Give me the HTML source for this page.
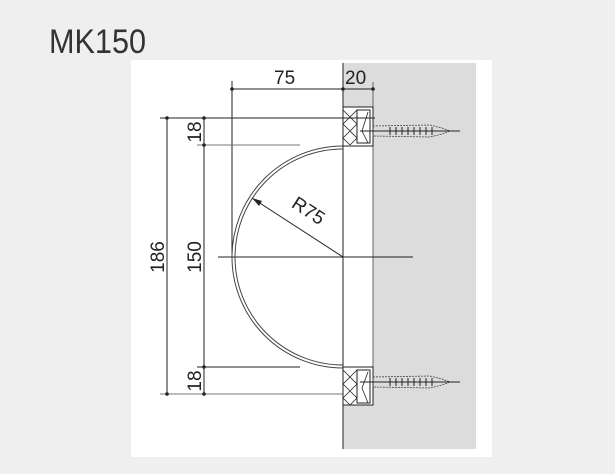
<!DOCTYPE html>
<html><head><style>
html,body{margin:0;padding:0;background:#efefef;}
svg{display:block}
</style></head><body>
<svg width="615" height="474" viewBox="0 0 615 474" xmlns="http://www.w3.org/2000/svg" font-family="Liberation Sans, sans-serif">
<rect x="0" y="0" width="615" height="474" fill="#efefef"/>
<text x="49" y="53" font-size="34" fill="#333" textLength="97" lengthAdjust="spacingAndGlyphs">MK150</text>
<rect x="131" y="60" width="361" height="397" fill="#fff"/>
<rect x="343" y="63" width="133" height="386" fill="#dcdcdc"/>
<rect x="343" y="107" width="30" height="298" fill="#fff"/>
<g stroke="#222" stroke-width="1" fill="none">
<line x1="343" y1="63" x2="343" y2="449"/>
<line x1="373" y1="82" x2="373" y2="405" stroke="#666"/>
<line x1="232" y1="89" x2="373" y2="89"/>
<line x1="232" y1="81" x2="232" y2="257"/>
<line x1="160" y1="118" x2="375" y2="118"/>
<line x1="197" y1="145" x2="300" y2="145" stroke="#777"/>
<line x1="197" y1="367" x2="300" y2="367"/>
<line x1="160" y1="394" x2="343" y2="394" stroke="#777"/>
<line x1="167" y1="118" x2="167" y2="394"/>
<line x1="204" y1="118" x2="204" y2="394"/>
<line x1="218" y1="257" x2="413" y2="257"/>
<path d="M343 146 A111 111 0 0 0 343 368" stroke="#444"/>
<path d="M343 149 A108 108 0 0 0 343 365" stroke="#444"/>
<line x1="343" y1="257" x2="252" y2="198"/>
<rect x="343" y="107" width="30" height="39"/>
<rect x="343" y="367" width="30" height="38"/>
<rect x="357" y="110" width="13" height="33"/>
<rect x="357" y="370" width="13" height="33"/>
<path d="M343 110 L357 124 M357 110 L343 124 M343 124 L357 138 M357 124 L343 138 M343 138 L350 145 M357 138 L350 145" stroke-width="0.8"/>
<path d="M343 370 L357 384 M357 370 L343 384 M343 384 L357 398 M357 384 L343 398 M343 398 L350 405 M357 398 L350 405" stroke-width="0.8"/>
<path d="M368 112 L362 131 L368 143 M368 372 L362 388 L368 403" stroke-width="0.8"/>
<g stroke="#444" stroke-width="0.8" stroke-dasharray="2,1">
<path d="M373 126 L430 125 L442 128 L450 131 L442 134 L430 137 L373 136 Z"/>
<path d="M373 377 L430 376 L442 379 L450 382 L442 385 L430 388 L373 387 Z"/>
</g>
<line x1="360" y1="131" x2="460" y2="131"/>
<line x1="360" y1="382" x2="460" y2="382"/>
<path d="M390 127v8M396 127v8M402 127v8M408 127v8M414 127v8M420 127v8M426 127v8M432 127v8" stroke-width="1"/>
<path d="M390 378v8M396 378v8M402 378v8M408 378v8M414 378v8M420 378v8M426 378v8M432 378v8" stroke-width="1"/>
</g>
<path d="M252 198 L262 201 L259 206 Z" fill="#222"/>
<g fill="#222">
<circle cx="232" cy="89" r="1.8"/><circle cx="343" cy="89" r="1.8"/><circle cx="373" cy="89" r="1.8"/>
<circle cx="167" cy="118" r="1.8"/><circle cx="204" cy="118" r="1.8"/><circle cx="204" cy="145" r="1.8"/>
<circle cx="204" cy="367" r="1.8"/><circle cx="167" cy="394" r="1.8"/><circle cx="204" cy="394" r="1.8"/>
</g>
<g font-size="19" fill="#222">
<text x="274" y="84">75</text>
<text x="345" y="84">20</text>
<text transform="translate(201,132) rotate(-90)" text-anchor="middle">18</text>
<text transform="translate(201,381) rotate(-90)" text-anchor="middle">18</text>
<text transform="translate(201,257) rotate(-90)" text-anchor="middle">150</text>
<text transform="translate(164,257) rotate(-90)" text-anchor="middle">186</text>
<text transform="translate(305,216) rotate(33)" text-anchor="middle">R75</text>
</g>
</svg>
</body></html>
